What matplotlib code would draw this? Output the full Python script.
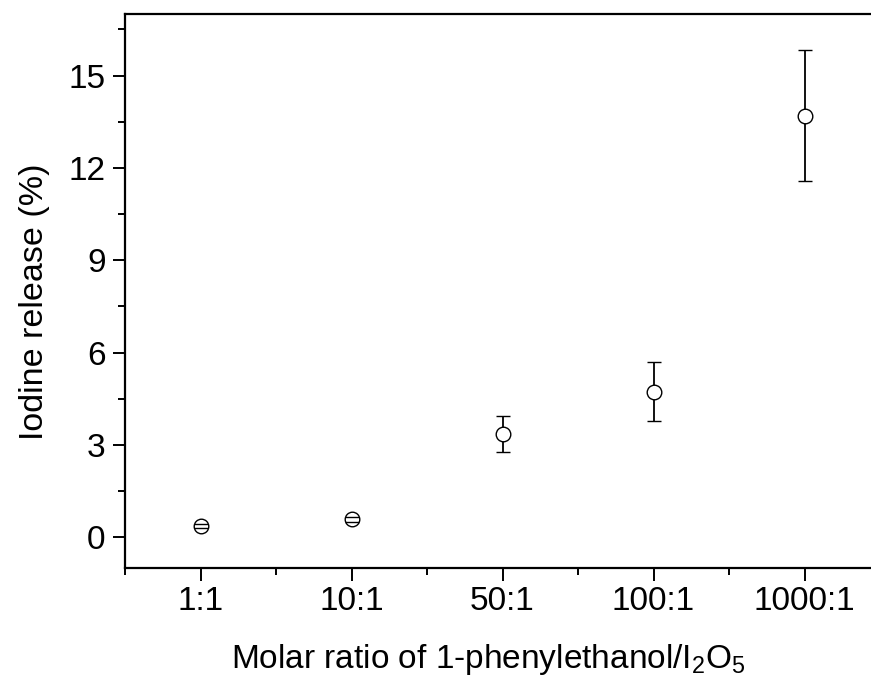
import matplotlib
matplotlib.use('Agg')
import matplotlib.pyplot as plt
from matplotlib.ticker import MultipleLocator

# Data
ratios = ['1:1', '10:1', '50:1', '100:1', '1000:1']
release = [0.37, 0.58, 3.35, 4.72, 13.69]
release_err = [0.07, 0.07, 0.58, 0.96, 2.13]

plt.rcParams['font.family'] = ['Liberation Sans', 'DejaVu Sans']
plt.rcParams['mathtext.default'] = 'regular'

fig = plt.figure(figsize=(8.71, 6.86), dpi=100)
# axes: left 125px, top 14px, bottom 568px; right side runs off the image
ax = fig.add_axes([125 / 871, 1 - 568 / 686, 755 / 871, 554 / 686])

x = list(range(len(ratios)))
line, caps, bars = ax.errorbar(x, release, yerr=release_err, fmt='o', mfc='white',
                               mec='black', ms=10.5, mew=1.0, ecolor='black',
                               elinewidth=1.3, capsize=5, capthick=1.3)
line.set_zorder(3)
for c in caps:
    c.set_zorder(4)
for b in bars:
    b.set_zorder(2)

ax.set_xlim(-0.5, 4.5)
ax.set_ylim(-1, 17)
ax.set_xticks(x)
ax.set_xticklabels(ratios)
ax.xaxis.set_minor_locator(MultipleLocator(0.5))
ax.yaxis.set_major_locator(MultipleLocator(3))
ax.yaxis.set_minor_locator(MultipleLocator(1.5))

ax.spines['right'].set_visible(False)
for s in ['left', 'top', 'bottom']:
    ax.spines[s].set_linewidth(1.6)

ax.tick_params(which='major', direction='out', length=9, width=1.4,
               labelsize=24, pad=5)
ax.tick_params(axis='x', which='major', pad=4)
ax.tick_params(which='minor', direction='out', length=5, width=1.4)
ax.tick_params(top=False, right=False, which='both')

ax.set_xlabel('Molar ratio of 1-phenylethanol/I$_2$O$_5$', fontsize=24)
ax.set_ylabel('Iodine release (%)', fontsize=24.5)
# label positions (x label sits under the visible part)
ax.xaxis.set_label_coords((488 - 125) / 755, -(642 - 568) / 554)
ax.yaxis.set_label_coords(-(125 - 50) / 755, (568 - 302) / 554)

fig.savefig('out.png', dpi=100)
